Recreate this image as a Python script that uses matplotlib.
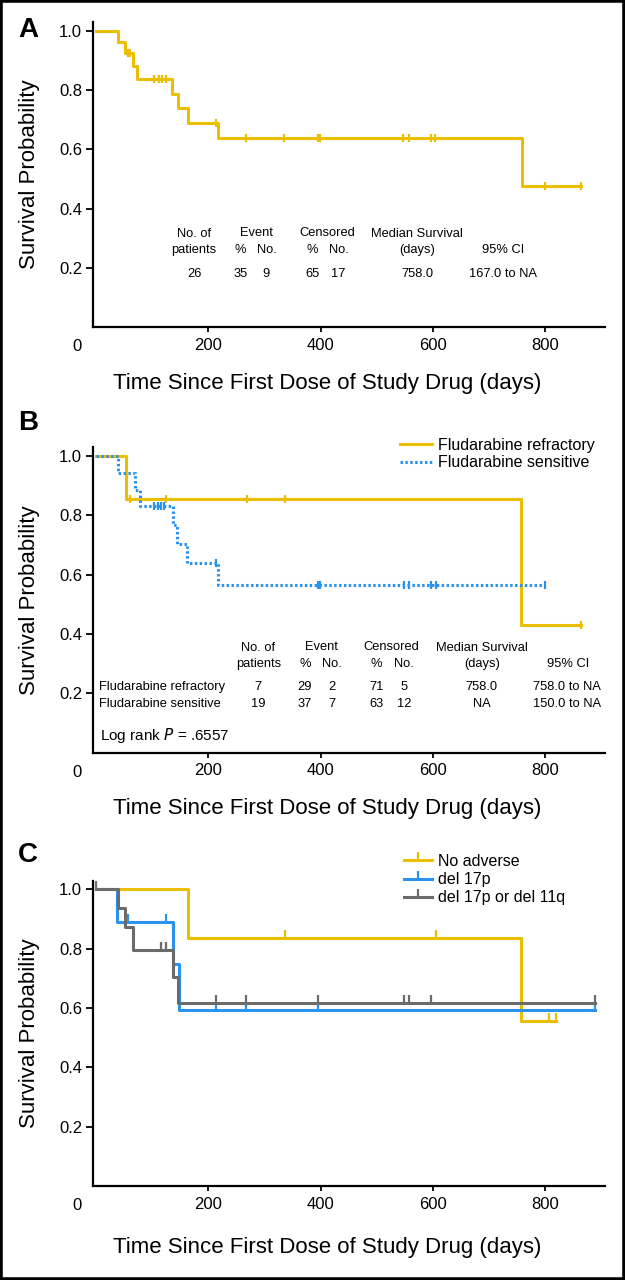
import numpy as np
import matplotlib
matplotlib.use('Agg')
import matplotlib.pyplot as plt
from matplotlib.patches import Rectangle
from matplotlib.lines import Line2D

plt.rcParams['font.family'] = ['Liberation Sans', 'DejaVu Sans']

YELLOW = '#EBBE00'
BLUE = '#2A93F0'
GRAY = '#6B6B6B'

# ---- panel A: all patients
a_times = [0, 40, 52, 66, 74, 136, 146, 164, 218, 758, 864]
a_surv = [1.0, 0.961, 0.924, 0.880, 0.835, 0.785, 0.740, 0.689, 0.637, 0.476, 0.476]
a_cens = [58, 61, 103, 113, 118, 125, 213, 267, 335, 395, 398, 546, 557, 596, 604, 799, 864]

# ---- panel B: fludarabine refractory / sensitive
br_times = [0, 54, 756, 864]
br_surv = [1.0, 0.855, 0.431, 0.431]
br_cens = [60, 125, 269, 336, 864]

bs_times = [0, 40, 70, 78, 138, 145, 163, 218, 800]
bs_surv = [1.0, 0.941, 0.886, 0.832, 0.768, 0.703, 0.639, 0.566, 0.566]
bs_cens = [103, 110, 116, 121, 213, 395, 399, 548, 557, 596, 605, 800]

# ---- panel C: cytogenetics
cn_times = [0, 164, 756, 819]
cn_surv = [1.0, 0.837, 0.556, 0.556]
cn_cens = [336, 605, 807, 819]

cd_times = [0, 38, 137, 148, 889]
cd_surv = [1.0, 0.891, 0.747, 0.595, 0.595]
cd_cens = [58, 124, 213, 267, 395, 889]

cg_times = [0, 40, 52, 67, 137, 147, 889]
cg_surv = [1.0, 0.938, 0.873, 0.797, 0.706, 0.618, 0.618]
cg_cens = [0, 116, 125, 213, 267, 395, 548, 557, 596, 889]

# tables
a_head = ['No. of\npatients', 'Event', '%', 'No.', 'Censored', '%', 'No.', 'Median Survival\n(days)', '95% CI']
a_row = ['26', '35', '9', '65', '17', '758.0', '167.0 to NA']

b_groups = ['Fludarabine refractory', 'Fludarabine sensitive']
b_rows = [['7', '29', '2', '71', '5', '758.0', '758.0 to NA'],
          ['19', '37', '7', '63', '12', 'NA', '150.0 to NA']]

xticks = [200, 400, 600, 800]
yticks = [0.2, 0.4, 0.6, 0.8, 1.0]
xlabel = 'Time Since First Dose of Study Drug (days)'
ylabel = 'Survival Probability'


def surv_at(times, surv, t):
    i = np.searchsorted(times, t, side='right') - 1
    return np.asarray(surv)[i]


def km(ax, times, surv, cens, color, dotted=False, marker='|', ms=6, label=None, zorder=2):
    ln, = ax.step(times, surv, where='post', color=color, lw=2.2, zorder=zorder,
                  label=label)
    if dotted:
        ln.set_dashes([0.8, 0.8])
    ax.plot(cens, surv_at(times, surv, cens), ls='none', marker=marker, ms=ms,
            mew=1.6, color=color, zorder=zorder)


def style(ax, xlab_y=-0.183):
    ax.set_xlim(-4.5, 906)
    ax.set_ylim(0, 1.03)
    for s in ['top', 'right']:
        ax.spines[s].set_visible(False)
    for s in ['left', 'bottom']:
        ax.spines[s].set_linewidth(1.6)
    ax.set_xticks(xticks)
    ax.set_yticks(yticks)
    ax.set_yticklabels([f'{v:.1f}' for v in yticks])
    ax.tick_params(axis='x', length=3.8, width=1.3, labelsize=12, pad=4)
    ax.tick_params(axis='y', length=5, width=1.3, labelsize=12, pad=3)
    ax.text(-0.032, -0.064, '0', transform=ax.transAxes, ha='center', va='center',
            fontsize=12)
    ax.text(0.457, xlab_y, xlabel, transform=ax.transAxes, ha='center',
            va='center', fontsize=16)
    ax.text(-0.124, 0.5, ylabel, transform=ax.transAxes, ha='center',
            va='center', rotation=90, fontsize=16)


fig = plt.figure(figsize=(6.25, 12.8), dpi=100)
L, W, H = 0.1493, 0.8187, 0.2387
axA = fig.add_axes([L, 0.7444, W, H])
axB = fig.add_axes([L, 0.4121, W, H])
axC = fig.add_axes([L, 0.0734, W, H])

# A
km(axA, a_times, a_surv, a_cens, YELLOW)
style(axA)
tfs = 9.3
cols_a = [174, 286, 257, 305, 411, 385, 432, 572, 725]
for x, t in zip(cols_a, a_head):
    if '\n' in t:
        axA.text(x, 0.288, t, ha='center', va='center', fontsize=tfs, linespacing=1.45)
    elif t in ('Event', 'Censored'):
        axA.text(x, 0.317, t, ha='center', va='center', fontsize=tfs)
    else:
        axA.text(x, 0.26, t, ha='center', va='center', fontsize=tfs)
vals_a = [175, 257, 303, 385, 432, 572, 725]
for x, t in zip(vals_a, a_row):
    axA.text(x, 0.18, t, ha='center', va='center', fontsize=tfs)

# B
km(axB, br_times, br_surv, br_cens, YELLOW, label='Fludarabine refractory', zorder=2)
km(axB, bs_times, bs_surv, bs_cens, BLUE, dotted=True, label='Fludarabine sensitive', zorder=3)
style(axB)
axB.legend(loc='upper left', bbox_to_anchor=(0.599, 1.03), frameon=False,
           fontsize=11.5, handlelength=2.0, handletextpad=0.4, borderpad=0,
           borderaxespad=0, labelspacing=0.15)
cols_b = [289, 401, 372, 420, 526, 499, 548, 687, 840]
for x, t in zip(cols_b, a_head):
    if '\n' in t:
        axB.text(x, 0.326, t, ha='center', va='center', fontsize=tfs, linespacing=1.45)
    elif t in ('Event', 'Censored'):
        axB.text(x, 0.356, t, ha='center', va='center', fontsize=tfs)
    else:
        axB.text(x, 0.297, t, ha='center', va='center', fontsize=tfs)
vals_b = [289, 372, 420, 499, 549, 687, 839]
for ry, g, row in zip([0.221, 0.162], b_groups, b_rows):
    axB.text(5, ry, g, ha='left', va='center', fontsize=tfs)
    for x, t in zip(vals_b, row):
        axB.text(x, ry, t, ha='center', va='center', fontsize=tfs)
axB.text(7, 0.059, 'Log rank $\\it{P}$ = .6557', ha='left', va='center', fontsize=11)

# C
km(axC, cn_times, cn_surv, cn_cens, YELLOW, marker=2, ms=6, label='No adverse', zorder=2)
km(axC, cd_times, cd_surv, cd_cens, BLUE, marker=2, ms=6, label='del 17p', zorder=3)
km(axC, cg_times, cg_surv, cg_cens, GRAY, marker=2, ms=6, label='del 17p or del 11q', zorder=4)
style(axC, xlab_y=-0.2)
lC = ['No adverse', 'del 17p', 'del 17p or del 11q']
hC = [Line2D([], [], color=c, lw=2.2, marker=2, ms=6, mew=1.6)
      for c in (YELLOW, BLUE, GRAY)]
axC.legend(hC, lC, loc='upper left', bbox_to_anchor=(0.608, 1.087), frameon=False,
           fontsize=11.5, handlelength=1.7, handletextpad=0.4, borderpad=0,
           borderaxespad=0, labelspacing=0.2, numpoints=1)

for lab, y in [('A', 1 - 30 / 1280), ('B', 1 - 423 / 1280), ('C', 1 - 855 / 1280)]:
    fig.text(28 / 625, y, lab, ha='center', va='center', fontsize=20, fontweight='bold')

fig.patches.append(Rectangle((0, 0), 1, 1, transform=fig.transFigure, fill=False,
                             lw=4, ec='black'))

fig.savefig('out.png', dpi=100)
